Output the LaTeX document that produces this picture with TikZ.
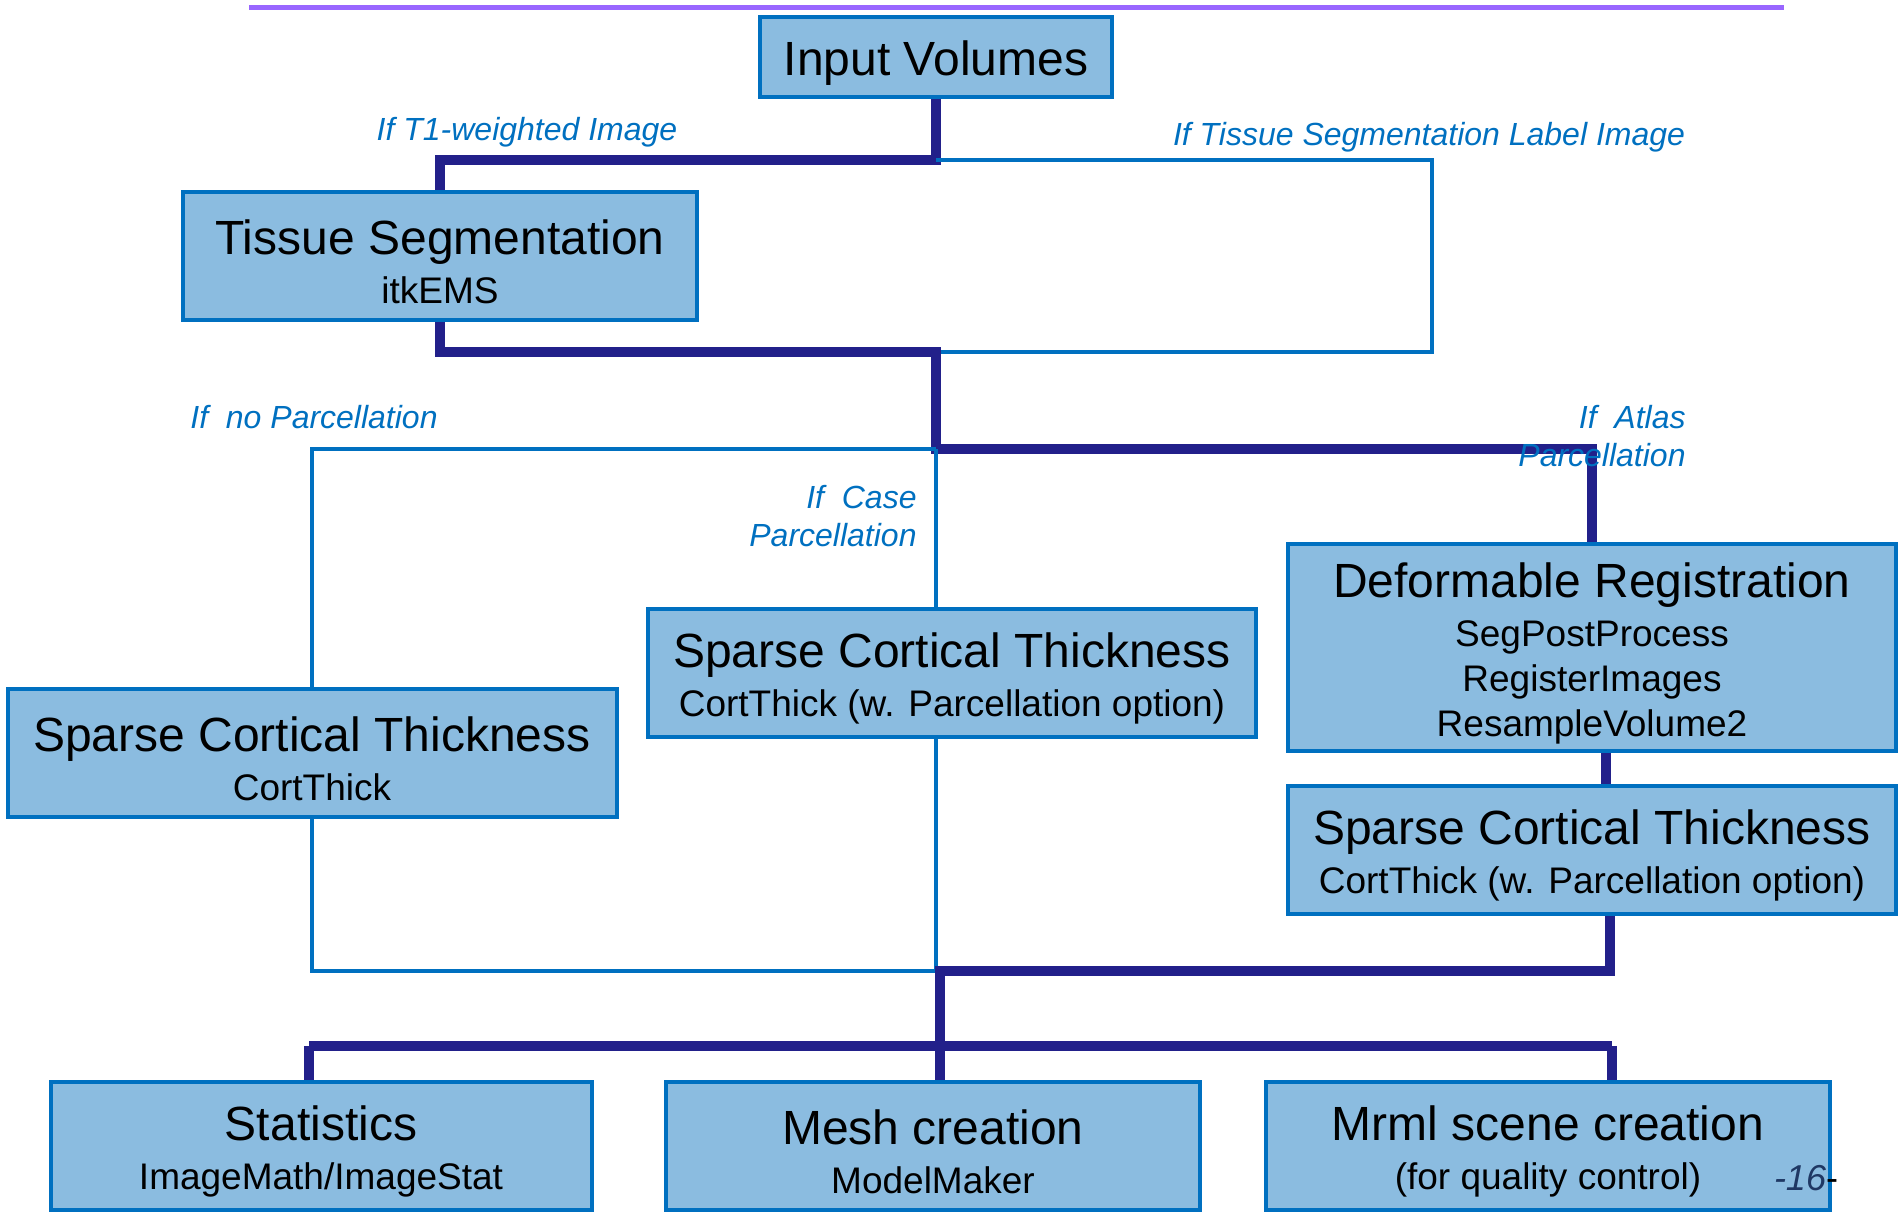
\documentclass[tikz,border=0pt]{standalone}
\usepackage{fontspec}
\setmainfont{Liberation Sans}
\usepackage{tikz}

\definecolor{boxfill}{RGB}{139,188,224}
\definecolor{boxline}{RGB}{0,112,192}
\definecolor{navyline}{RGB}{34,32,138}
\definecolor{rulepurple}{RGB}{153,102,255}
\definecolor{pagenum}{RGB}{31,56,100}

\newcommand{\titlesize}{\fontsize{24}{28}\selectfont\rule{0pt}{23pt}}

\begin{document}
\begin{tikzpicture}[x=0.5pt,y=0.5pt,yscale=-1,xscale=1,
  stepbox/.style={draw=boxline,fill=boxfill,line width=2pt,inner sep=0pt,align=center,
    minimum height=64pt,font=\fontsize{18.5}{22.5}\selectfont},
  mainline/.style={draw=navyline,line width=5pt},
  altline/.style={draw=boxline,line width=2pt},
  cond/.style={text=boxline,inner sep=0pt,font=\fontsize{16}{19}\selectfont\itshape}]
\useasboundingbox (0,0) rectangle (1903,1218);

%Straight Lines (title rule)
\draw [rulepurple,line width=2.5pt] (249,8) -- (1784,8) ;

%Shape: Rectangle
\draw (936,57) node [stepbox,minimum width=176pt,minimum height=40pt] (inputvol) {\titlesize Input Volumes};
%Shape: Rectangle
\draw (440,256) node [stepbox,minimum width=257pt] (tissueseg) {{\titlesize Tissue Segmentation}\\[2pt]itkEMS};
%Shape: Rectangle
\draw (312,753) node [stepbox,minimum width=304.5pt] (sparsenone) {{\titlesize Sparse Cortical Thickness}\\[2pt]CortThick};
%Shape: Rectangle
\draw (952,673) node [stepbox,minimum width=304pt] (sparsecase) {{\titlesize Sparse Cortical Thickness}\\[2pt]CortThick (w. Parcellation option)};
%Shape: Rectangle
\draw (1592,648) node [stepbox,minimum width=304pt,minimum height=103.5pt] (deformreg) {{\titlesize Deformable Registration}\\[2pt]SegPostProcess\\RegisterImages\\ResampleVolume2};
%Shape: Rectangle
\draw (1592,850) node [stepbox,minimum width=304pt] (sparseatlas) {{\titlesize Sparse Cortical Thickness}\\[2pt]CortThick (w. Parcellation option)};
%Shape: Rectangle
\draw (321,1146) node [stepbox,minimum width=270.5pt] (stats) {{\titlesize Statistics}\\[2pt]ImageMath/ImageStat};
%Shape: Rectangle
\draw (933,1146) node [stepbox,minimum width=267pt] (mesh) {{\titlesize Mesh creation}\\[2pt]ModelMaker};
%Shape: Rectangle
\draw (1548,1146) node [stepbox,minimum width=282pt] (mrml) {{\titlesize Mrml scene creation}\\[2pt](for quality control)};

%Junctions
\coordinate (split1) at (936,160);
\coordinate (bypass) at (1432,256);
\coordinate (merge1) at (936,352);
\coordinate (split2) at (936,449);
\coordinate (merge2) at (940,971);
\coordinate (statsin) at (309,1046);
\coordinate (mrmlin) at (1612,1046);

%Straight Lines
\draw [mainline] (inputvol.south) -- (split1) -| (tissueseg.north) ;
\draw [altline] (split1) -| (bypass) |- (merge1) ;
\draw [mainline] (tissueseg.south) |- (merge1) -- (split2) -| (deformreg.north) ;
\draw [altline] (split2) -| (sparsenone.north) ;
\draw [altline] (split2) -- (split2 |- sparsecase.north) ;
\draw [mainline] ([xshift=7pt]deformreg.south) -- ([xshift=7pt]sparseatlas.north) ;
\draw [altline] (sparsenone.south) |- (merge2) ;
\draw [altline] (split2 |- sparsecase.south) -- (split2 |- merge2) ;
\draw [mainline] ([xshift=9pt]sparseatlas.south) |- (merge2) -- (merge2 |- mesh.north) ;
\draw [mainline] (statsin) -- (mrmlin) ;
\draw [mainline] (statsin) -- (statsin |- stats.north) ;
\draw [mainline] (mrmlin) -- (mrmlin |- mrml.north) ;

% Text Node
\draw (527,132) node [cond] (ift1) {If T1-weighted Image};
% Text Node
\draw (1429,137) node [cond] (iflabel) {If Tissue Segmentation Label Image};
% Text Node
\draw (314,417) node [cond] (ifnone) {If\ \ no Parcellation};
% Text Node
\draw (917,516) node [cond,anchor=east,align=right] (ifcase) {If\ \ Case\\Parcellation};
% Text Node
\draw (1686,436) node [cond,anchor=east,align=right] (ifatlas) {If\ \ Atlas\\Parcellation};
% Text Node
\draw (1806,1178) node [inner sep=0pt,font=\fontsize{18}{21}\selectfont] (pageno) {{\color{pagenum}\itshape -16}-};
\end{tikzpicture}
\end{document}
